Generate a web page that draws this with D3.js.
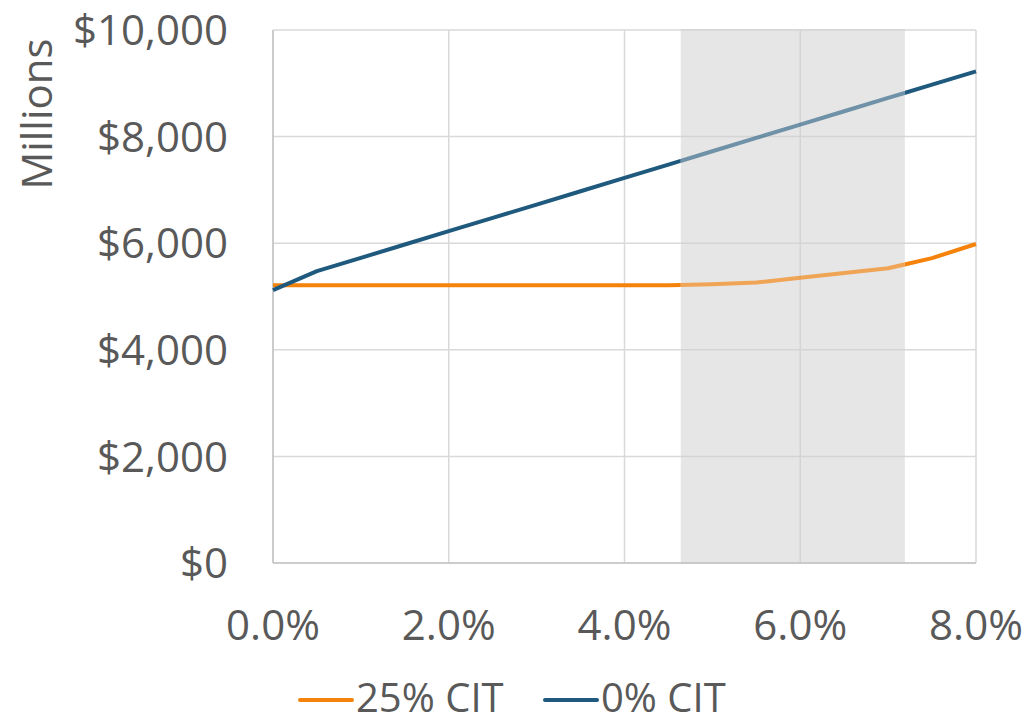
<!DOCTYPE html>
<html>
<head>
<meta charset="utf-8">
<script src="https://cdn.jsdelivr.net/npm/d3@7"></script>
<style>
  html, body { margin: 0; padding: 0; background: #fff; }
  svg { display: block; font-family: "Open Sans", sans-serif; }
</style>
</head>
<body>
<svg id="chart" width="1028" height="724"></svg>
<script>
// Interest rate (%) on the x axis
const rates = [0, 0.5, 1, 1.5, 2, 2.5, 3, 3.5, 4, 4.5, 5, 5.5, 6, 6.5, 7, 7.5, 8];
// Value in $ millions under each tax scenario
const cit25 = [5210, 5210, 5210, 5210, 5210, 5210, 5210, 5210, 5210, 5212, 5229, 5262, 5353, 5440, 5530, 5720, 5985];
const cit0  = [5120, 5475, 5725, 5975, 6225, 6475, 6725, 6975, 7225, 7475, 7725, 7975, 8225, 8475, 8725, 8975, 9225];
const seriesNames = ["25% CIT", "0% CIT"];
const seriesColors = ["#f5820a", "#1f5a7e"];
// Highlighted range of rates
const band = [4.64, 7.19];
const yTicks = [0, 2000, 4000, 6000, 8000, 10000];
const xTicks = [0, 2, 4, 6, 8];

const svg = d3.select("#chart");
const m = { left: 273, top: 30, right: 976, bottom: 563 };

const x = d3.scaleLinear().domain([0, 8]).range([m.left, m.right]);
const y = d3.scaleLinear().domain([0, 10000]).range([m.bottom, m.top]);

const textColor = "#595959";

// Gridlines
svg.append("g").selectAll("line").data(yTicks).join("line")
  .attr("x1", m.left).attr("x2", m.right)
  .attr("y1", d => y(d)).attr("y2", d => y(d))
  .attr("stroke", "#d9d9d9").attr("stroke-width", 1.5);
svg.append("g").selectAll("line").data(xTicks).join("line")
  .attr("x1", d => x(d)).attr("x2", d => x(d))
  .attr("y1", m.top).attr("y2", m.bottom)
  .attr("stroke", "#d9d9d9").attr("stroke-width", 1.5);

// Shaded band
svg.append("rect")
  .attr("x", x(band[0])).attr("y", m.top)
  .attr("width", x(band[1]) - x(band[0])).attr("height", m.bottom - m.top)
  .attr("fill", "#e6e6e6");

// Gridlines again inside the band so they remain visible
const bandG = svg.append("g");
xTicks.filter(d => d > band[0] && d < band[1]).forEach(d => {
  bandG.append("line").attr("x1", x(d)).attr("x2", x(d))
    .attr("y1", m.top).attr("y2", m.bottom)
    .attr("stroke", "#d4d4d4").attr("stroke-width", 1.5);
});
yTicks.forEach(d => {
  bandG.append("line").attr("x1", x(band[0])).attr("x2", x(band[1]))
    .attr("y1", y(d)).attr("y2", y(d))
    .attr("stroke", "#d4d4d4").attr("stroke-width", 1.5);
});

// Axis lines
svg.append("line").attr("x1", m.left).attr("x2", m.left)
  .attr("y1", m.top).attr("y2", m.bottom)
  .attr("stroke", "#c4c4c4").attr("stroke-width", 1.5);
svg.append("line").attr("x1", m.left).attr("x2", m.right)
  .attr("y1", m.bottom).attr("y2", m.bottom)
  .attr("stroke", "#c4c4c4").attr("stroke-width", 1.5);

// Clip regions: inside and outside the band
const defs = svg.append("defs");
defs.append("clipPath").attr("id", "inBand").append("rect")
  .attr("x", x(band[0])).attr("y", 0)
  .attr("width", x(band[1]) - x(band[0])).attr("height", 724);
const outClip = defs.append("clipPath").attr("id", "outBand");
outClip.append("rect").attr("x", 0).attr("y", 0).attr("width", x(band[0])).attr("height", 724);
outClip.append("rect").attr("x", x(band[1])).attr("y", 0).attr("width", 1028 - x(band[1])).attr("height", 724);

const line = d3.line().x((d, i) => x(rates[i])).y(d => y(d));

[cit25, cit0].forEach((vals, k) => {
  svg.append("path").datum(vals)
    .attr("d", line).attr("fill", "none")
    .attr("stroke", seriesColors[k]).attr("stroke-width", 4)
    .attr("stroke-linejoin", "round")
    .attr("clip-path", "url(#outBand)");
  svg.append("path").datum(vals)
    .attr("d", line).attr("fill", "none")
    .attr("stroke", seriesColors[k]).attr("stroke-width", 4)
    .attr("stroke-opacity", k === 0 ? 0.66 : 0.6)
    .attr("stroke-linejoin", "round")
    .attr("clip-path", "url(#inBand)");
});

// Y tick labels
const fmtY = d => "$" + d3.format(",")(d);
svg.append("g").selectAll("text").data(yTicks).join("text")
  .attr("x", 228).attr("y", d => y(d))
  .attr("dy", "0.36em")
  .attr("text-anchor", "end")
  .attr("font-size", 42).attr("fill", textColor)
  .text(fmtY);

// X tick labels
svg.append("g").selectAll("text").data(xTicks).join("text")
  .attr("x", d => x(d)).attr("y", 640)
  .attr("text-anchor", "middle")
  .attr("font-size", 42).attr("fill", textColor)
  .text(d => d.toFixed(1) + "%");

// Y axis title
svg.append("text")
  .attr("transform", "translate(52,114) rotate(-90)")
  .attr("text-anchor", "middle")
  .attr("font-size", 42).attr("fill", textColor)
  .text("Millions");

// Legend
const legendX = [300, 545];
seriesNames.forEach((name, k) => {
  const g = svg.append("g").attr("transform", `translate(${legendX[k]},700)`);
  g.append("line").attr("x1", 0).attr("x2", 52).attr("y1", 0).attr("y2", 0)
    .attr("stroke", seriesColors[k]).attr("stroke-width", 4).attr("stroke-linecap", "round");
  g.append("text").attr("x", 56).attr("y", 12)
    .attr("font-size", 40).attr("fill", textColor).text(name);
});
</script>
</body>
</html>
